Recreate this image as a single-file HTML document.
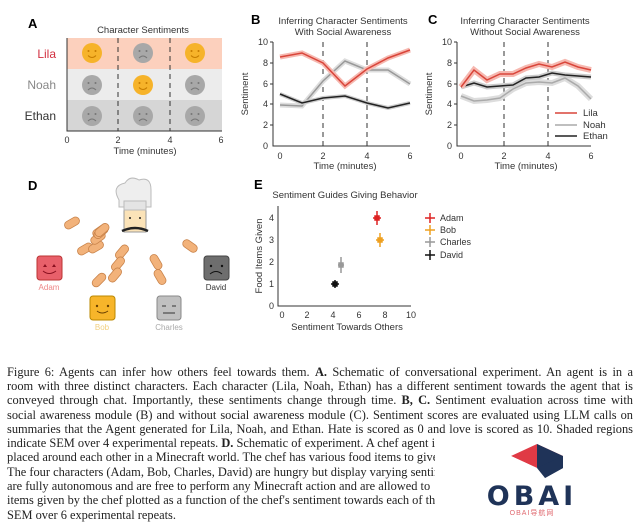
<!DOCTYPE html>
<html><head><meta charset="utf-8"><style>
body{margin:0;background:#fff;width:640px;height:528px;overflow:hidden;position:relative}
svg{position:absolute;left:0;top:0}
.cap{position:absolute;left:7px;font-family:"Liberation Serif",serif;font-size:12.4px;color:#222;white-space:nowrap;line-height:14px}
.f{width:626px;text-align:justify;text-align-last:justify}
.t{width:428px;overflow:hidden}
</style></head><body>
<svg width="640" height="528" font-family="Liberation Sans, sans-serif">
<defs>
<g id="sm"><circle cx="-3.5" cy="-2" r="1" fill="#c77d00"/><circle cx="3.5" cy="-2" r="1" fill="#c77d00"/><path d="M-4 2.5 q4 4 8 0" stroke="#c77d00" fill="none" stroke-width="1"/></g>
<g id="fr"><circle cx="-3.5" cy="-2" r="1" fill="#777"/><circle cx="3.5" cy="-2" r="1" fill="#777"/><path d="M-4 5 q4 -4 8 0" stroke="#777" fill="none" stroke-width="1"/></g>
</defs>
<!-- Panel A -->
<text x="28" y="28" font-size="13" font-weight="bold">A</text>
<text x="143" y="33" font-size="9.5" text-anchor="middle" fill="#333">Character Sentiments</text>
<rect x="67" y="38" width="155" height="31" fill="#fcd0bd"/>
<rect x="67" y="69" width="155" height="31" fill="#ececec"/>
<rect x="67" y="100" width="155" height="31" fill="#d6d6d6"/>
<path d="M67 38V131H222" stroke="#333" fill="none" stroke-width="1"/>
<g stroke="#333" stroke-dasharray="5,4"><line x1="118" y1="38" x2="118" y2="131"/><line x1="170" y1="38" x2="170" y2="131"/></g>
<text x="56" y="58" font-size="12" text-anchor="end" fill="#d23040">Lila</text>
<text x="56" y="89" font-size="12" text-anchor="end" fill="#888">Noah</text>
<text x="56" y="120" font-size="12" text-anchor="end" fill="#333">Ethan</text>
<g font-size="9" text-anchor="middle" fill="#333"><text x="67" y="143">0</text><text x="118" y="143">2</text><text x="170" y="143">4</text><text x="221" y="143">6</text><text x="145" y="154" font-size="9.5">Time (minutes)</text></g>
<circle cx="92" cy="53" r="10" fill="#f6b32a"/><use href="#sm" x="92" y="53"/>
<circle cx="143" cy="53" r="10" fill="#a8a8a8"/><use href="#fr" x="143" y="53"/>
<circle cx="195" cy="53" r="10" fill="#f6b32a"/><use href="#sm" x="195" y="53"/>
<circle cx="92" cy="85" r="10" fill="#a8a8a8"/><use href="#fr" x="92" y="85"/>
<circle cx="143" cy="85" r="10" fill="#f6b32a"/><use href="#sm" x="143" y="85"/>
<circle cx="195" cy="85" r="10" fill="#a8a8a8"/><use href="#fr" x="195" y="85"/>
<circle cx="92" cy="116" r="10" fill="#a8a8a8"/><use href="#fr" x="92" y="116"/>
<circle cx="143" cy="116" r="10" fill="#a8a8a8"/><use href="#fr" x="143" y="116"/>
<circle cx="195" cy="116" r="10" fill="#a8a8a8"/><use href="#fr" x="195" y="116"/>
<!-- Panel B -->
<text x="251" y="24" font-size="13" font-weight="bold">B</text>
<text x="343" y="24" font-size="9.5" text-anchor="middle" fill="#333">Inferring Character Sentiments</text>
<text x="343" y="35" font-size="9.5" text-anchor="middle" fill="#333">With Social Awareness</text>
<path d="M273 42V146H410" stroke="#333" fill="none"/>
<g stroke="#333"><line x1="270" y1="42" x2="273" y2="42"/><line x1="270" y1="63" x2="273" y2="63"/><line x1="270" y1="84" x2="273" y2="84"/><line x1="270" y1="104" x2="273" y2="104"/><line x1="270" y1="125" x2="273" y2="125"/></g>
<g font-size="9" text-anchor="end" fill="#333"><text x="268" y="45">10</text><text x="268" y="66">8</text><text x="268" y="87">6</text><text x="268" y="107">4</text><text x="268" y="128">2</text><text x="268" y="149">0</text></g>
<text transform="translate(248,94) rotate(-90)" font-size="9.5" text-anchor="middle" fill="#333">Sentiment</text>
<g font-size="9" text-anchor="middle" fill="#333"><text x="280" y="159">0</text><text x="323" y="159">2</text><text x="367" y="159">4</text><text x="410" y="159">6</text><text x="345" y="169" font-size="9.5">Time (minutes)</text></g>
<g stroke="#333" stroke-dasharray="5,4"><line x1="323" y1="42" x2="323" y2="146"/><line x1="367" y1="42" x2="367" y2="146"/></g>
<g fill="none" stroke-width="1.5">
<polyline stroke="#ddd" stroke-width="5" points="280,105 302,106 323,81 345,61 367,70 388,70 410,84"/>
<polyline stroke="#999" points="280,105 302,106 323,81 345,61 367,70 388,70 410,84"/>
<polyline stroke="#f6b8b0" stroke-width="5" points="280,57 302,53 323,63 345,86 367,69 388,58 410,50"/>
<polyline stroke="#d9453a" points="280,57 302,53 323,63 345,86 367,69 388,58 410,50"/>
<polyline stroke="#ccc" stroke-width="4" points="280,94 302,103 323,98 345,96 367,103 388,108 410,103"/>
<polyline stroke="#222" points="280,94 302,103 323,98 345,96 367,103 388,108 410,103"/>
</g>
<!-- Panel C -->
<text x="428" y="24" font-size="13" font-weight="bold">C</text>
<text x="525" y="24" font-size="9.5" text-anchor="middle" fill="#333">Inferring Character Sentiments</text>
<text x="525" y="35" font-size="9.5" text-anchor="middle" fill="#333">Without Social Awareness</text>
<path d="M457 42V146H591" stroke="#333" fill="none"/>
<g stroke="#333"><line x1="454" y1="42" x2="457" y2="42"/><line x1="454" y1="63" x2="457" y2="63"/><line x1="454" y1="84" x2="457" y2="84"/><line x1="454" y1="104" x2="457" y2="104"/><line x1="454" y1="125" x2="457" y2="125"/></g>
<g font-size="9" text-anchor="end" fill="#333"><text x="452" y="45">10</text><text x="452" y="66">8</text><text x="452" y="87">6</text><text x="452" y="107">4</text><text x="452" y="128">2</text><text x="452" y="149">0</text></g>
<text transform="translate(432,94) rotate(-90)" font-size="9.5" text-anchor="middle" fill="#333">Sentiment</text>
<g font-size="9" text-anchor="middle" fill="#333"><text x="461" y="159">0</text><text x="504" y="159">2</text><text x="548" y="159">4</text><text x="591" y="159">6</text><text x="526" y="169" font-size="9.5">Time (minutes)</text></g>
<g stroke="#333" stroke-dasharray="5,4"><line x1="504" y1="42" x2="504" y2="146"/><line x1="548" y1="42" x2="548" y2="146"/></g>
<g fill="none" stroke-width="1.5">
<polyline stroke="#ddd" stroke-width="6" points="461,96 474,101 487,100 500,98 513,89 526,83 539,82 552,83 565,78 578,86 591,99"/>
<polyline stroke="#aaa" points="461,96 474,101 487,100 500,98 513,89 526,83 539,82 552,83 565,78 578,86 591,99"/>
<polyline stroke="#ccc" stroke-width="5" points="461,87 474,83 487,87 500,86 513,85 526,78 539,77 552,73 565,75 591,77"/>
<polyline stroke="#222" points="461,87 474,83 487,87 500,86 513,85 526,78 539,77 552,73 565,75 591,77"/>
<polyline stroke="#f6b8b0" stroke-width="6" points="461,87 474,70 487,80 500,74 513,74 526,68 539,64 552,67 565,62 578,67 591,70"/>
<polyline stroke="#d9453a" points="461,87 474,70 487,80 500,74 513,74 526,68 539,64 552,67 565,62 578,67 591,70"/>
</g>
<g font-size="9.5" fill="#333">
<line x1="555" y1="113" x2="577" y2="113" stroke="#d9453a" stroke-width="1.5"/><text x="583" y="116">Lila</text>
<line x1="555" y1="125" x2="577" y2="125" stroke="#aaa" stroke-width="1.5"/><text x="583" y="128">Noah</text>
<line x1="555" y1="136" x2="577" y2="136" stroke="#222" stroke-width="1.5"/><text x="583" y="139">Ethan</text>
</g>
<!-- Panel D -->
<text x="28" y="190" font-size="13" font-weight="bold">D</text>
<path d="M119 200 q-8 -14 6 -17 q5 -8 14 -3 q12 -4 12 10 v17 h-32z" fill="#eee" stroke="#bbb"/>
<rect x="124" y="210" width="22" height="22" fill="#fbe3b8" stroke="#999"/>
<rect x="124" y="201" width="22" height="9" fill="#e4e4e4" stroke="#bbb"/>
<circle cx="130" cy="218" r="1" fill="#222"/><circle cx="140" cy="218" r="1" fill="#222"/>
<path d="M122 231 q13 -6 26 0" stroke="#222" stroke-width="2.5" fill="none"/>
<g fill="#f2b27a" stroke="#c9834a" stroke-width="0.8">
<rect x="64" y="219" width="16" height="8" rx="4" transform="rotate(-30 72 223)"/>
<rect x="92" y="227" width="16" height="8" rx="4" transform="rotate(-35 100 231)"/>
<rect x="77" y="245" width="16" height="8" rx="4" transform="rotate(-30 85 249)"/>
<rect x="88" y="243" width="16" height="8" rx="4" transform="rotate(-30 96 247)"/>
<rect x="90" y="234" width="16" height="8" rx="4" transform="rotate(-35 98 238)"/>
<rect x="93" y="228" width="16" height="8" rx="4" transform="rotate(-40 101 232)"/>
<rect x="94" y="226" width="16" height="8" rx="4" transform="rotate(-40 102 230)"/>
<rect x="114" y="248" width="16" height="8" rx="4" transform="rotate(-50 122 252)"/>
<rect x="110" y="260" width="16" height="8" rx="4" transform="rotate(-50 118 264)"/>
<rect x="107" y="271" width="16" height="8" rx="4" transform="rotate(-50 115 275)"/>
<rect x="91" y="276" width="16" height="8" rx="4" transform="rotate(-45 99 280)"/>
<rect x="182" y="242" width="16" height="8" rx="4" transform="rotate(35 190 246)"/>
<rect x="148" y="258" width="16" height="8" rx="4" transform="rotate(60 156 262)"/>
<rect x="152" y="273" width="16" height="8" rx="4" transform="rotate(60 160 277)"/>
</g>
<rect x="37" y="256" width="25" height="24" rx="3" fill="#e8606a" stroke="#b33"/>
<path d="M43 267 l2 -3 l2 3z M52 267 l2 -3 l2 3z" fill="#8a1020"/><path d="M43 271 q6 5 13 0" stroke="#8a1020" fill="none"/>
<rect x="90" y="296" width="25" height="24" rx="3" fill="#f7b52a" stroke="#b80"/>
<circle cx="97" cy="306" r="1.2" fill="#6a4000"/><circle cx="108" cy="306" r="1.2" fill="#6a4000"/><path d="M97 311 q5 4 11 0" stroke="#6a4000" fill="none"/>
<rect x="157" y="296" width="24" height="24" rx="3" fill="#c0c0c0" stroke="#888"/>
<path d="M162 306 h4 M172 306 h4 M163 313 h12" stroke="#333"/>
<rect x="204" y="256" width="25" height="24" rx="3" fill="#6e6e6e" stroke="#444"/>
<circle cx="211" cy="266" r="1.2" fill="#111"/><circle cx="222" cy="266" r="1.2" fill="#111"/><path d="M210 274 q6 -5 12 0" stroke="#111" fill="none"/>
<g font-size="8" text-anchor="middle">
<text x="49" y="290" fill="#e88">Adam</text><text x="102" y="330" fill="#f2d080">Bob</text><text x="169" y="330" fill="#aaa">Charles</text><text x="216" y="290" fill="#333">David</text>
</g>
<!-- Panel E -->
<text x="254" y="189" font-size="13" font-weight="bold">E</text>
<text x="345" y="198" font-size="9.5" text-anchor="middle" fill="#333">Sentiment Guides Giving Behavior</text>
<path d="M278 206V306H411" stroke="#333" fill="none"/>
<g font-size="9" fill="#333" text-anchor="end"><text x="274" y="309">0</text><text x="274" y="287">1</text><text x="274" y="265">2</text><text x="274" y="243">3</text><text x="274" y="221">4</text></g>
<g font-size="9" fill="#333" text-anchor="middle"><text x="282" y="318">0</text><text x="307" y="318">2</text><text x="333" y="318">4</text><text x="359" y="318">6</text><text x="385" y="318">8</text><text x="411" y="318">10</text>
<text x="347" y="330" font-size="9.5">Sentiment Towards Others</text></g>
<text transform="translate(262,256) rotate(-90)" font-size="9.5" text-anchor="middle" fill="#333">Food Items Given</text>
<g stroke-width="1.5">
<g stroke="#d22"><line x1="377" y1="211" x2="377" y2="225"/><line x1="373" y1="218" x2="381" y2="218"/><rect x="375" y="216" width="4" height="4" fill="#d22"/></g>
<g stroke="#eea020"><line x1="380" y1="233" x2="380" y2="247"/><line x1="376" y1="240" x2="384" y2="240"/><rect x="378" y="238" width="4" height="4" fill="#eea020"/></g>
<g stroke="#999"><line x1="341" y1="257" x2="341" y2="273"/><line x1="338" y1="265" x2="344" y2="265"/><rect x="339" y="263" width="4" height="4" fill="#999"/></g>
<g stroke="#111"><line x1="335" y1="280" x2="335" y2="288"/><line x1="331" y1="284" x2="339" y2="284"/><rect x="333" y="282" width="4" height="4" fill="#111"/></g>
</g>
<g font-size="9" fill="#333">
<g stroke-width="1.5"><path d="M430 213v10M425 218h10" stroke="#d22"/><path d="M430 225v10M425 230h10" stroke="#eea020"/><path d="M430 237v10M425 242h10" stroke="#999"/><path d="M430 250v10M425 255h10" stroke="#111"/></g>
<text x="440" y="221">Adam</text><text x="440" y="233">Bob</text><text x="440" y="245">Charles</text><text x="440" y="258">David</text>
</g>
<!-- Logo -->
<path d="M537 444 L563 456 L537 468 L511 456 Z" fill="#e03a45"/>
<path d="M537 444 L563 456 L563 468 L545 478 L545 466 L537 468 Z" fill="#1f3358"/>
<path d="M537 468 L563 456 L563 468 L545 478 Z" fill="#1f3358"/>
<path d="M511 456 L537 468 L530 472 L511 462 Z" fill="#fff"/>
<text x="532" y="505" font-size="27" font-weight="bold" text-anchor="middle" fill="#1f3358" letter-spacing="4" font-family="DejaVu Sans, sans-serif">OBAI</text>
<text x="532" y="515" font-size="7" text-anchor="middle" fill="#e06a70" letter-spacing="1" font-family="Liberation Sans, Noto Sans CJK SC, sans-serif">OBAI导航网</text>
</svg>
<div class="cap f" style="top:365px">Figure 6: Agents can infer how others feel towards them. <b>A.</b> Schematic of conversational experiment. An agent is in a</div>
<div class="cap f" style="top:379px">room with three distinct characters. Each character (Lila, Noah, Ethan) has a different sentiment towards the agent that is</div>
<div class="cap f" style="top:393px">conveyed through chat. Importantly, these sentiments change through time. <b>B, C.</b> Sentiment evaluation across time with</div>
<div class="cap f" style="top:408px">social awareness module (B) and without social awareness module (C). Sentiment scores are evaluated using LLM calls on</div>
<div class="cap f" style="top:422px">summaries that the Agent generated for Lila, Noah, and Ethan. Hate is scored as 0 and love is scored as 10. Shaded regions</div>
<div class="cap t" style="top:436px">indicate SEM over 4 experimental repeats. <b>D.</b> Schematic of experiment. A chef agent is</div>
<div class="cap t" style="top:450px">placed around each other in a Minecraft world. The chef has various food items to give to</div>
<div class="cap t" style="top:465px">The four characters (Adam, Bob, Charles, David) are hungry but display varying sentiments</div>
<div class="cap t" style="top:479px">are fully autonomous and are free to perform any Minecraft action and are allowed to</div>
<div class="cap t" style="top:493px">items given by the chef plotted as a function of the chef's sentiment towards each of the</div>
<div class="cap t" style="top:508px">SEM over 6 experimental repeats.</div>
</body></html>
